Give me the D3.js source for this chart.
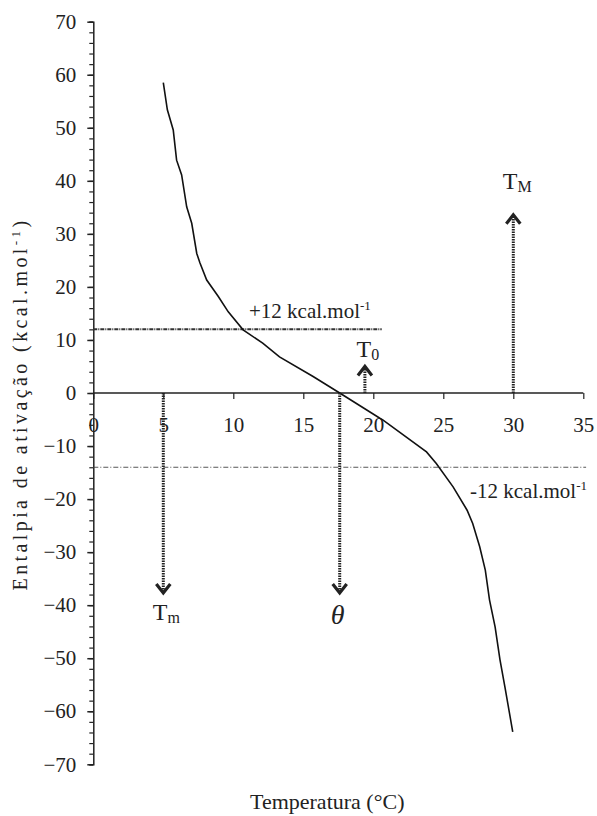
<!DOCTYPE html>
<html>
<head>
<meta charset="utf-8">
<script src="https://cdn.jsdelivr.net/npm/d3@7"></script>
</head>
<body style="margin:0; background:#fff">
<div id="chart"></div>
<script>
'use strict'

// curve: temperature (°C) vs activation enthalpy
var temp = [5.0, 5.29, 5.71, 5.95, 6.31, 6.67, 7.03, 7.39, 7.62, 8.1, 8.93, 9.64, 10.7, 12.1, 13.3, 15.7, 17.6, 20.5, 20.7, 23.8, 24.5, 25.7, 26.7, 27.1, 27.6, 28.0, 28.3, 28.7, 29.05, 29.4, 29.96];
var enthalpy = [58.5, 53.4, 49.6, 43.9, 41.1, 35.1, 32.0, 26.3, 24.5, 21.3, 18.2, 15.3, 11.9, 9.4, 6.8, 3.1, 0, -4.8, -5.1, -11.1, -13.3, -17.7, -22.1, -24.6, -29.0, -33.4, -39.0, -44.1, -50.3, -55.4, -63.9];

var xTicks = [0, 5, 10, 15, 20, 25, 30, 35];
var yTicks = [70, 60, 50, 40, 30, 20, 10, 0, -10, -20, -30, -40, -50, -60, -70];

// reference lines: value and where they stop
var refLines = [{ y: 12, xEnd: 20.6, label: "+12 kcal.mol" }, { y: -14, xEnd: 35.2, label: "-12 kcal.mol" }];

// arrows: x, from, to, label, subscript
var arrows = [
  { x: 5, y0: 0, y1: -37.7, label: "T", sub: "m" },
  { x: 17.6, y0: 0, y1: -37.7, label: "θ", sub: "" },
  { x: 19.4, y0: 0, y1: 5, label: "T", sub: "0" },
  { x: 30, y0: 0, y1: 33.6, label: "T", sub: "M" }
];

const W = 597, H = 816;
const FONT = "'Liberation Serif'";
// label offsets from the arrow tip (px), same order as arrows
const labelDx = [3, -2, 3, 4];
const labelDy = [27, 31, -9, -26];

var svg = d3.select('#chart').append('svg')
  .attr('width', W)
  .attr('height', H);

var x = d3.scaleLinear().domain([0, 35]).range([93.3, 583.3]);
var y = d3.scaleLinear().domain([-70, 70]).range([764.3, 21.7]);

function txt(sel, size) {
  return sel.style('font-family', FONT).style('font-size', size + 'px').style('fill', '#222');
}

// y axis, minor ticks every 2
var yMinor = d3.range(-70, 71, 2);
svg.append('g')
  .attr('transform', 'translate(' + x(0) + ',0)')
  .call(d3.axisLeft(y).tickValues(yMinor).tickSize(4).tickFormat(''))
  .call(g => g.select('.domain').attr('stroke', '#222').attr('stroke-width', 1.5))
  .call(g => g.selectAll('line').attr('stroke', '#222').attr('stroke-width', 1.2));

var yAxis = svg.append('g')
  .attr('transform', 'translate(' + x(0) + ',0)')
  .call(d3.axisLeft(y).tickValues(yTicks).tickSize(6).tickPadding(11));
yAxis.select('.domain').remove();
yAxis.selectAll('line').attr('stroke', '#222').attr('stroke-width', 1.5);
txt(yAxis.selectAll('text'), 21);

// x axis through zero
var xAxis = svg.append('g')
  .attr('transform', 'translate(0,' + y(0) + ')')
  .call(d3.axisBottom(x).tickValues(xTicks).tickSize(6).tickPadding(18));
xAxis.select('.domain').attr('stroke', '#222').attr('stroke-width', 1.5).attr('d', 'M' + x(0) + ',0H' + x(35));
xAxis.selectAll('line').attr('stroke', '#222').attr('stroke-width', 1.2);
txt(xAxis.selectAll('text'), 21);

// reference lines
svg.append('line')
  .attr('x1', x(0)).attr('x2', x(refLines[0].xEnd))
  .attr('y1', y(refLines[0].y)).attr('y2', y(refLines[0].y))
  .attr('stroke', '#333').attr('stroke-width', 2)
  .attr('stroke-dasharray', '4,1,1,1');
svg.append('line')
  .attr('x1', x(0)).attr('x2', x(refLines[1].xEnd))
  .attr('y1', y(refLines[1].y)).attr('y2', y(refLines[1].y))
  .attr('stroke', '#444').attr('stroke-width', 0.9)
  .attr('stroke-dasharray', '5,2,1,2');

function kcal(sel, label) {
  sel.append('tspan').text(label);
  sel.append('tspan').attr('dy', -8).style('font-size', '13px').text('-1');
}
kcal(txt(svg.append('text').attr('x', 249).attr('y', 318), 21), refLines[0].label);
kcal(txt(svg.append('text').attr('x', 470).attr('y', 498), 21), refLines[1].label);

// the curve
var pts = temp.map((t, i) => [t, enthalpy[i]]);
svg.append('path')
  .datum(pts)
  .attr('fill', 'none')
  .attr('stroke', '#111')
  .attr('stroke-width', 1.6)
  .attr('d', d3.line().x(d => x(d[0])).y(d => y(d[1])));

// arrows
arrows.forEach(function (a, i) {
  var up = a.y1 > a.y0;
  var tip = y(a.y1);
  var s = up ? 1 : -1;
  svg.append('line')
    .attr('x1', x(a.x)).attr('x2', x(a.x))
    .attr('y1', y(a.y0)).attr('y2', tip + s * 2)
    .attr('stroke', '#222').attr('stroke-width', 3)
    .attr('stroke-dasharray', '1.5,1');
  svg.append('path')
    .attr('d', 'M' + (x(a.x) - 7) + ',' + (tip + s * 9) + 'L' + x(a.x) + ',' + tip + 'L' + (x(a.x) + 7) + ',' + (tip + s * 9))
    .attr('fill', 'none').attr('stroke', '#222').attr('stroke-width', 3.2);
  var t = svg.append('text')
    .attr('x', x(a.x) + labelDx[i])
    .attr('y', tip + labelDy[i])
    .attr('text-anchor', 'middle');
  if (a.sub) {
    txt(t, 24);
    t.append('tspan').text(a.label);
    t.append('tspan').attr('dy', 3).style('font-size', '16px').text(a.sub);
  } else {
    txt(t, 28).style('font-style', 'italic').text(a.label);
  }
});

// axis titles
txt(svg.append('text'), 20)
  .attr('transform', 'translate(27,404) rotate(-90)')
  .attr('text-anchor', 'middle')
  .style('letter-spacing', '3.4px')
  .call(function (t) {
    t.append('tspan').text('Entalpia de ativação (kcal.mol');
    t.append('tspan').attr('dy', -7).style('font-size', '13px').text('-1');
    t.append('tspan').attr('dy', 7).text(')');
  });

txt(svg.append('text'), 22)
  .attr('x', 250).attr('y', 809)
  .text('Temperatura (°C)');
</script>
</body>
</html>
